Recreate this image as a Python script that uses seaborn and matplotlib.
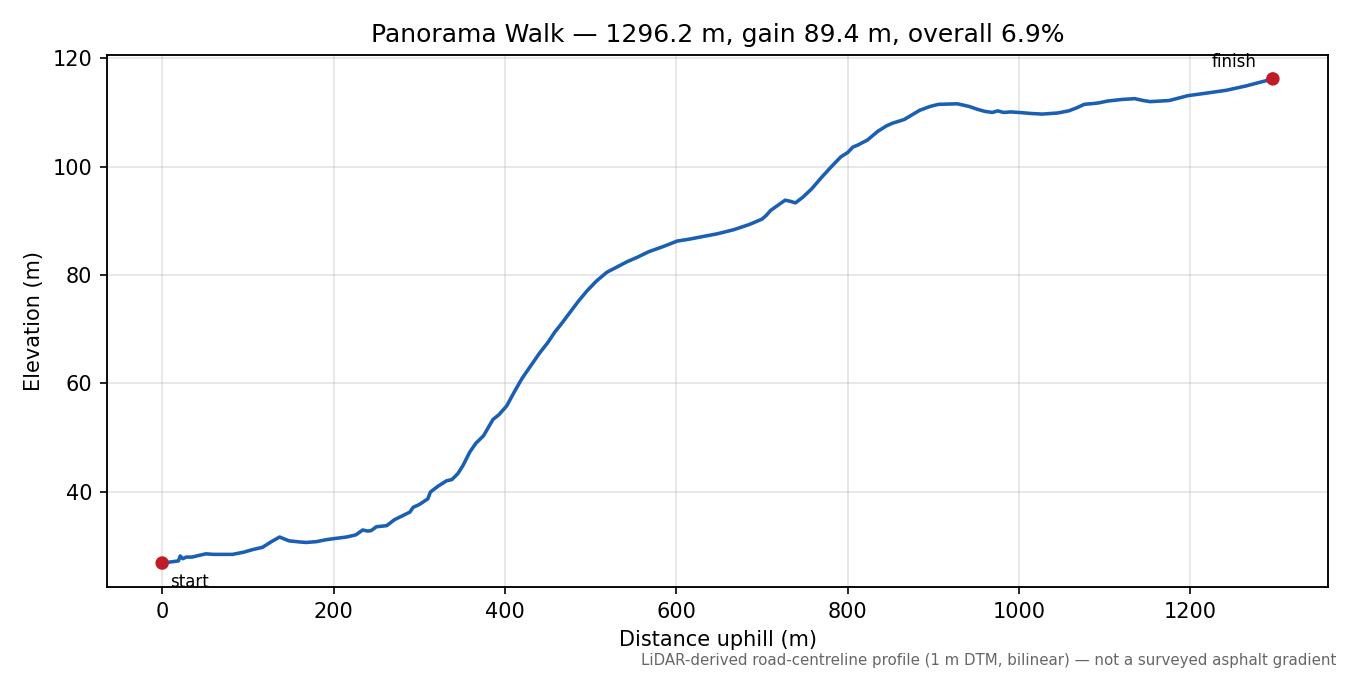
import matplotlib
matplotlib.use("Agg")
import matplotlib.pyplot as plt
import seaborn as sns
import pandas as pd

distance_m = [
    0, 10, 19, 21, 24, 28, 35, 40, 51, 60, 70, 82, 95, 106, 117, 128, 137, 148,
    160, 168, 180, 191, 200, 215, 226, 234, 240, 244, 250, 256, 262, 271, 280,
    289, 293, 300, 310, 313, 322, 332, 338, 345, 351, 359, 366, 375, 386, 393,
    402, 412, 420, 430, 441, 450, 458, 467, 476, 486, 496, 507, 519, 530, 542,
    555, 568, 584, 601, 615, 628, 648, 667, 685, 700, 705, 710, 718, 727, 733,
    739, 748, 758, 770, 781, 792, 800, 806, 812, 823, 835, 845, 852, 866, 884,
    896, 906, 928, 942, 951, 960, 969, 975, 982, 990, 1000, 1015, 1027, 1045,
    1058, 1068, 1076, 1090, 1094, 1103, 1120, 1135, 1145, 1153, 1175, 1185,
    1197, 1220, 1242, 1265, 1296.2,
]
elevation_m = [
    26.8, 27.0, 27.2, 28.1, 27.6, 27.9, 27.9, 28.1, 28.5, 28.4, 28.4, 28.4,
    28.8, 29.3, 29.7, 30.8, 31.6, 30.9, 30.7, 30.6, 30.75, 31.1, 31.3, 31.6,
    32.0, 32.9, 32.7, 32.8, 33.5, 33.6, 33.7, 34.8, 35.5, 36.2, 37.1, 37.6,
    38.65, 39.9, 41.0, 42.0, 42.2, 43.3, 44.8, 47.3, 48.9, 50.3, 53.3, 54.2,
    55.8, 58.7, 60.9, 63.2, 65.7, 67.5, 69.4, 71.2, 73.1, 75.2, 77.1, 78.9,
    80.5, 81.4, 82.4, 83.3, 84.3, 85.2, 86.25, 86.6, 87.0, 87.6, 88.35, 89.3,
    90.3, 91.0, 91.9, 92.8, 93.8, 93.6, 93.3, 94.4, 95.9, 98.1, 100.0, 101.8,
    102.6, 103.6, 104.0, 104.9, 106.5, 107.5, 108.0, 108.7, 110.4, 111.1,
    111.5, 111.6, 111.1, 110.6, 110.2, 110.0, 110.3, 110.0, 110.1, 110.0,
    109.8, 109.7, 109.9, 110.3, 110.9, 111.5, 111.7, 111.8, 112.1, 112.4,
    112.55, 112.2, 112.0, 112.2, 112.6, 113.1, 113.6, 114.1, 114.9, 116.2,
]
endpoint_labels = ["start", "finish"]

title = "Panorama Walk \u2014 1296.2 m, gain 89.4 m, overall 6.9%"
footer = ("LiDAR-derived road-centreline profile (1 m DTM, bilinear) "
          "\u2014 not a surveyed asphalt gradient")

sns.set_style("ticks")
plt.rcParams["font.family"] = ["DejaVu Sans"]
plt.rcParams["text.color"] = "black"
plt.rcParams["axes.labelcolor"] = "black"
plt.rcParams["xtick.color"] = "black"
plt.rcParams["ytick.color"] = "black"
plt.rcParams["axes.edgecolor"] = "black"

df = pd.DataFrame({"d": distance_m, "e": elevation_m})
ends = pd.DataFrame({"d": [distance_m[0], distance_m[-1]],
                     "e": [elevation_m[0], elevation_m[-1]],
                     "lab": endpoint_labels})

fig, ax = plt.subplots(figsize=(9, 4.5), dpi=150)
fig.subplots_adjust(left=0.079, right=0.984, top=0.919, bottom=0.130)

sns.lineplot(data=df, x="d", y="e", ax=ax, color="#1a5fb4", linewidth=1.7,
             estimator=None, sort=False, zorder=2)
sns.scatterplot(data=ends, x="d", y="e", ax=ax, color="#c01c28", s=42,
                edgecolor="none", zorder=3)

ax.annotate(ends["lab"][0], (ends["d"][0], ends["e"][0]), xytext=(4, -5),
            textcoords="offset points", ha="left", va="top", fontsize=8)
ax.annotate(ends["lab"][1], (ends["d"][1], ends["e"][1]), xytext=(-8, 4),
            textcoords="offset points", ha="right", va="bottom", fontsize=8)

ax.grid(True, color="#b0b0b0", alpha=0.35, linewidth=0.8)
ax.set_axisbelow(True)
for s in ax.spines.values():
    s.set_visible(True)
    s.set_linewidth(0.9)
ax.margins(x=0.05, y=0.05)
ax.set_xlabel("Distance uphill (m)", fontsize=10)
ax.set_ylabel("Elevation (m)", fontsize=10)
ax.set_title(title, fontsize=12)
ax.tick_params(labelsize=10)

fig.text(0.990, 0.010, footer, ha="right", va="bottom", fontsize=7.2,
         color="#666666")

fig.savefig("out.png", dpi=150)
